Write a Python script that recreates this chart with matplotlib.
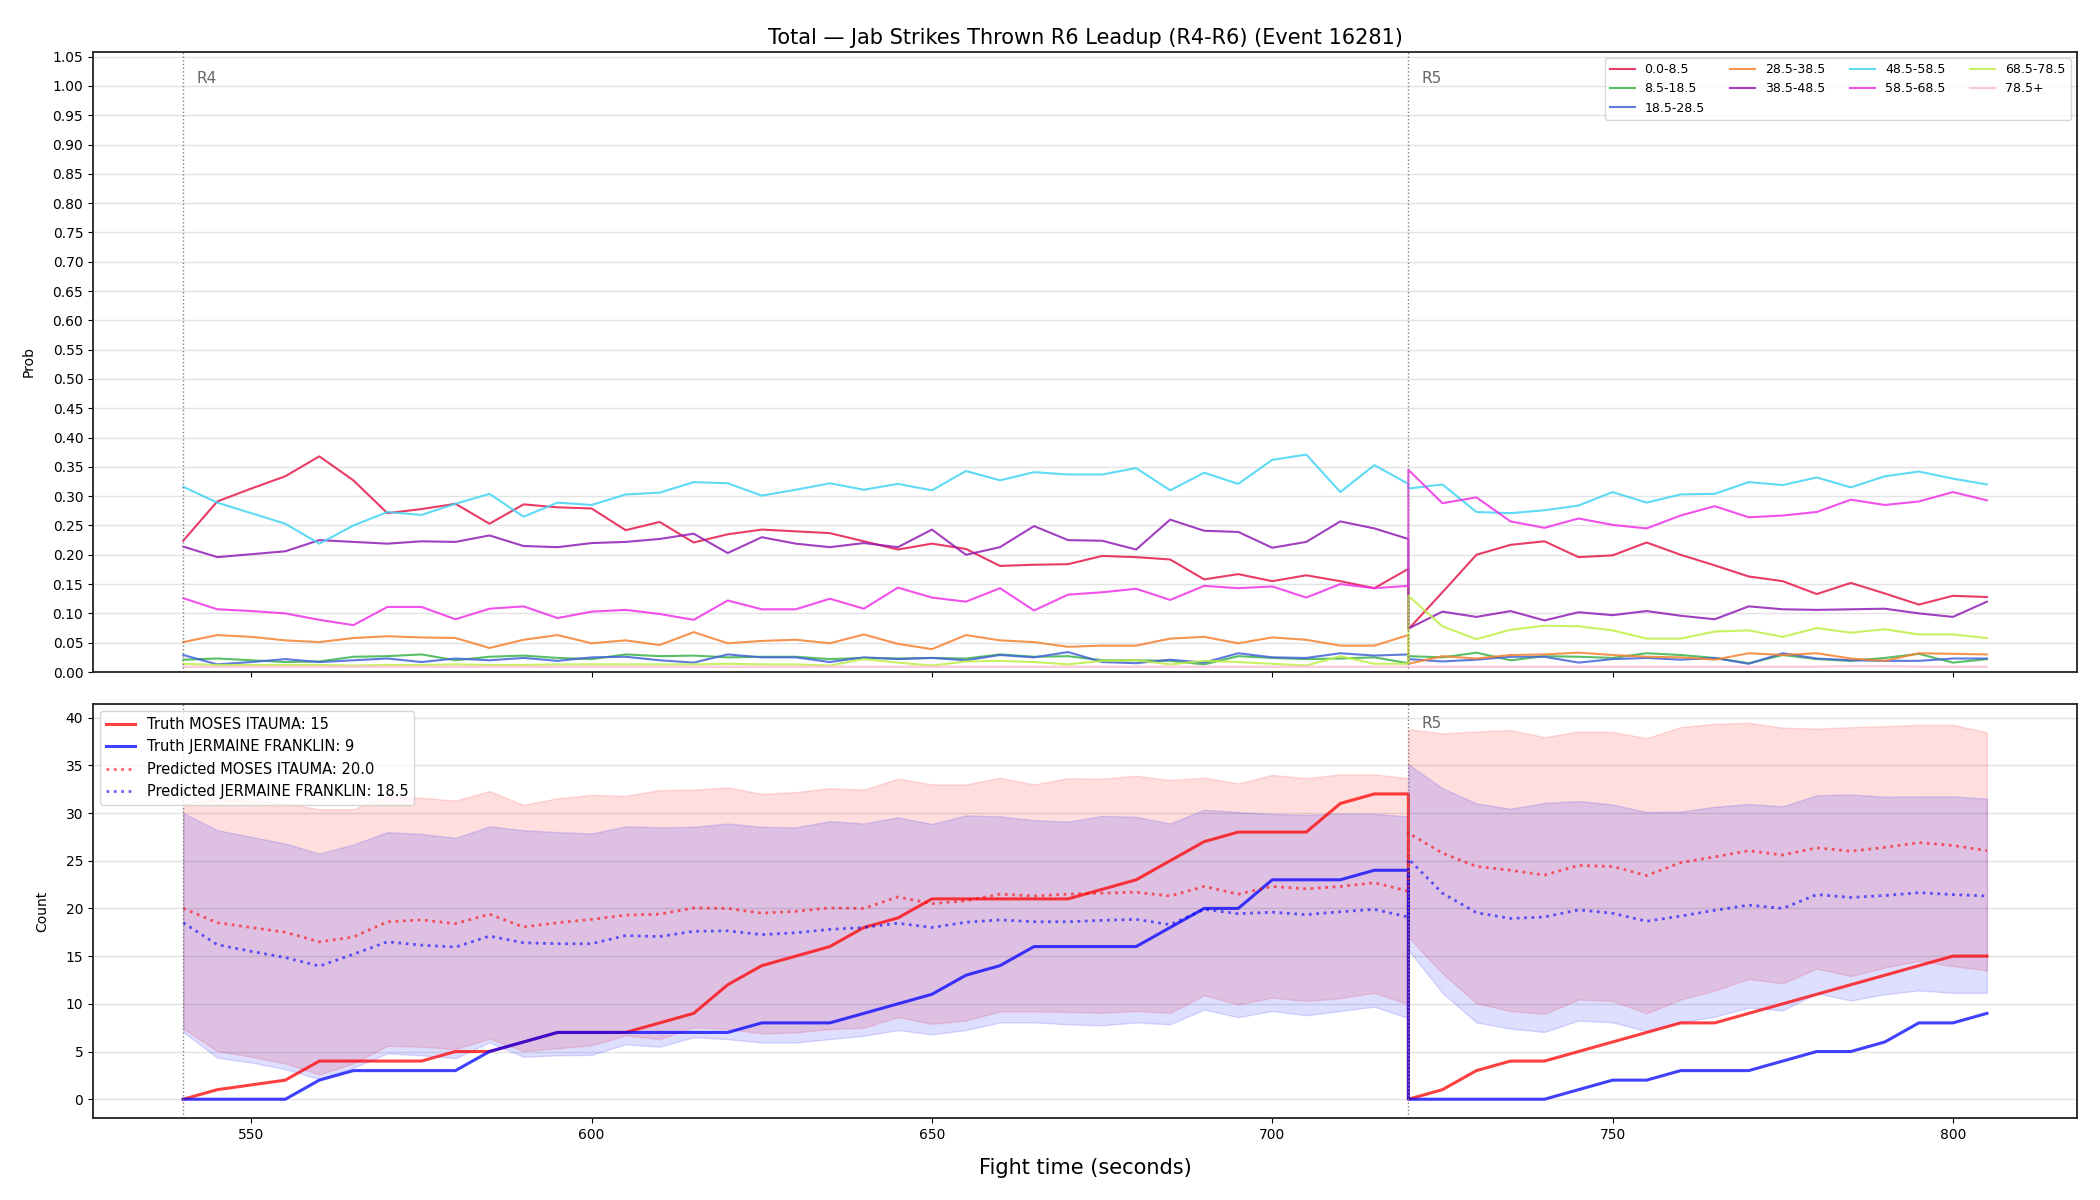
import matplotlib
matplotlib.use("Agg")
import matplotlib.pyplot as plt
import matplotlib.transforms as mtransforms
import numpy as np

# time grid: round 4 runs 540..720, round 5 restarts at 720 and runs to 805
t_r4 = list(range(540, 725, 5))
t_r5 = list(range(720, 810, 5))

bins = ['0.0-8.5', '8.5-18.5', '18.5-28.5', '28.5-38.5', '38.5-48.5',
        '48.5-58.5', '58.5-68.5', '68.5-78.5', '78.5+']
bin_colors = ['#e6194b', '#3cb44b', '#4363d8', '#f58231', '#911eb4',
              '#42d4f4', '#f032e6', '#bfef45', '#fabed4']

p_00_r4 = [0.224, 0.291, 0.313, 0.334, 0.368, 0.327, 0.271, 0.278, 0.287, 0.253, 0.286, 0.281, 0.279, 0.242, 0.256, 0.221, 0.235, 0.243,
           0.240, 0.237, 0.223, 0.209, 0.219, 0.210, 0.181, 0.183, 0.184, 0.198, 0.196, 0.192, 0.158, 0.167, 0.155, 0.165, 0.155, 0.143, 0.176]
p_00_r5 = [0.073, 0.136, 0.200, 0.217, 0.223, 0.196, 0.199, 0.221, 0.200, 0.182, 0.163, 0.155, 0.133, 0.152, 0.134, 0.115, 0.130, 0.128]

p_08_r4 = [0.021, 0.023, 0.020, 0.017, 0.018, 0.026, 0.027, 0.030, 0.020, 0.026, 0.028, 0.024, 0.022, 0.030, 0.027, 0.028, 0.025, 0.026,
           0.026, 0.022, 0.024, 0.023, 0.024, 0.023, 0.030, 0.026, 0.027, 0.020, 0.020, 0.019, 0.013, 0.027, 0.024, 0.022, 0.023, 0.025, 0.015]
p_08_r5 = [0.027, 0.025, 0.033, 0.020, 0.027, 0.026, 0.024, 0.032, 0.029, 0.024, 0.015, 0.029, 0.022, 0.019, 0.024, 0.031, 0.016, 0.022]

p_18_r4 = [0.029, 0.013, 0.017, 0.022, 0.017, 0.020, 0.023, 0.017, 0.023, 0.020, 0.024, 0.019, 0.025, 0.026, 0.020, 0.016, 0.030, 0.025,
           0.025, 0.017, 0.025, 0.022, 0.024, 0.020, 0.029, 0.025, 0.034, 0.017, 0.015, 0.021, 0.016, 0.032, 0.025, 0.024, 0.032, 0.028, 0.030]
p_18_r5 = [0.022, 0.018, 0.021, 0.026, 0.026, 0.016, 0.022, 0.024, 0.021, 0.024, 0.014, 0.032, 0.023, 0.020, 0.019, 0.019, 0.023, 0.023]

p_28_r4 = [0.051, 0.063, 0.060, 0.054, 0.051, 0.058, 0.061, 0.059, 0.058, 0.041, 0.055, 0.063, 0.049, 0.054, 0.046, 0.068, 0.049, 0.053,
           0.055, 0.049, 0.064, 0.048, 0.039, 0.063, 0.054, 0.051, 0.043, 0.045, 0.045, 0.057, 0.060, 0.049, 0.059, 0.055, 0.045, 0.045, 0.063]
p_28_r5 = [0.014, 0.027, 0.023, 0.029, 0.030, 0.033, 0.029, 0.026, 0.025, 0.021, 0.032, 0.029, 0.032, 0.023, 0.019, 0.032, 0.031, 0.030]

p_38_r4 = [0.214, 0.196, 0.201, 0.206, 0.225, 0.222, 0.219, 0.223, 0.222, 0.233, 0.215, 0.213, 0.220, 0.222, 0.227, 0.236, 0.203, 0.230,
           0.219, 0.213, 0.220, 0.213, 0.243, 0.200, 0.213, 0.249, 0.225, 0.224, 0.209, 0.260, 0.241, 0.239, 0.212, 0.222, 0.257, 0.245, 0.227]
p_38_r5 = [0.074, 0.103, 0.094, 0.104, 0.088, 0.102, 0.097, 0.104, 0.096, 0.090, 0.112, 0.107, 0.106, 0.107, 0.108, 0.100, 0.094, 0.120]

p_48_r4 = [0.316, 0.289, 0.271, 0.253, 0.219, 0.250, 0.273, 0.268, 0.287, 0.304, 0.265, 0.289, 0.285, 0.303, 0.306, 0.324, 0.322, 0.301,
           0.311, 0.322, 0.311, 0.321, 0.310, 0.343, 0.327, 0.341, 0.337, 0.337, 0.348, 0.310, 0.340, 0.321, 0.362, 0.371, 0.307, 0.353, 0.321]
p_48_r5 = [0.313, 0.320, 0.273, 0.271, 0.276, 0.284, 0.307, 0.289, 0.303, 0.304, 0.324, 0.319, 0.332, 0.315, 0.334, 0.342, 0.330, 0.320]

p_58_r4 = [0.126, 0.107, 0.104, 0.100, 0.089, 0.080, 0.111, 0.111, 0.090, 0.108, 0.112, 0.092, 0.103, 0.106, 0.099, 0.089, 0.122, 0.107,
           0.107, 0.125, 0.108, 0.144, 0.127, 0.120, 0.143, 0.105, 0.132, 0.136, 0.142, 0.123, 0.147, 0.143, 0.146, 0.127, 0.150, 0.143, 0.147]
p_58_r5 = [0.345, 0.288, 0.298, 0.257, 0.246, 0.262, 0.251, 0.245, 0.267, 0.283, 0.264, 0.267, 0.273, 0.294, 0.285, 0.291, 0.307, 0.293]

p_68_r4 = [0.014, 0.012, 0.012, 0.012, 0.012, 0.011, 0.012, 0.012, 0.013, 0.012, 0.012, 0.013, 0.013, 0.013, 0.013, 0.013, 0.014, 0.013,
           0.013, 0.011, 0.022, 0.016, 0.011, 0.018, 0.019, 0.017, 0.013, 0.019, 0.020, 0.013, 0.019, 0.017, 0.014, 0.011, 0.027, 0.014, 0.014]
p_68_r5 = [0.130, 0.078, 0.056, 0.072, 0.079, 0.078, 0.071, 0.057, 0.057, 0.069, 0.071, 0.060, 0.075, 0.067, 0.073, 0.064, 0.064, 0.058]

p_78_r4 = [0.009, 0.009, 0.009, 0.009, 0.009, 0.009, 0.009, 0.009, 0.009, 0.009, 0.009, 0.009, 0.009, 0.009, 0.009, 0.009, 0.009, 0.009,
           0.009, 0.009, 0.009, 0.009, 0.009, 0.009, 0.009, 0.009, 0.009, 0.009, 0.009, 0.009, 0.009, 0.009, 0.009, 0.009, 0.009, 0.009, 0.009]
p_78_r5 = [0.009, 0.009, 0.009, 0.009, 0.009, 0.009, 0.009, 0.009, 0.009, 0.009, 0.009, 0.009, 0.009, 0.010, 0.010, 0.009, 0.009, 0.009]

probs = [(p_00_r4, p_00_r5), (p_08_r4, p_08_r5), (p_18_r4, p_18_r5),
         (p_28_r4, p_28_r5), (p_38_r4, p_38_r5), (p_48_r4, p_48_r5),
         (p_58_r4, p_58_r5), (p_68_r4, p_68_r5), (p_78_r4, p_78_r5)]

# cumulative counts
truth_moses_r4 = [0, 1, 1.5, 2, 4, 4, 4, 4, 5, 5, 6, 7, 7, 7, 8, 9, 12, 14,
                  15, 16, 18, 19, 21, 21, 21, 21, 21, 22, 23, 25, 27, 28, 28, 28, 31, 32, 32]
truth_moses_r5 = [0, 1, 3, 4, 4, 5, 6, 7, 8, 8, 9, 10, 11, 12, 13, 14, 15, 15]
truth_franklin_r4 = [0, 0, 0, 0, 2, 3, 3, 3, 3, 5, 6, 7, 7, 7, 7, 7, 7, 8,
                     8, 8, 9, 10, 11, 13, 14, 16, 16, 16, 16, 18, 20, 20, 23, 23, 23, 24, 24]
truth_franklin_r5 = [0, 0, 0, 0, 0, 1, 2, 2, 3, 3, 3, 4, 5, 5, 6, 8, 8, 9]

pred_moses_r4 = [20.0, 18.5, 18.0, 17.5, 16.5, 17.0, 18.6, 18.8, 18.4, 19.4, 18.05, 18.5, 18.85, 19.3, 19.4, 20.05, 20.0, 19.5,
                 19.7, 20.05, 20.0, 21.2, 20.5, 20.8, 21.5, 21.3, 21.5, 21.6, 21.7, 21.3, 22.3, 21.5, 22.3, 22.05, 22.3, 22.7, 21.8]
pred_moses_r5 = [27.9, 25.8, 24.4, 24.0, 23.5, 24.5, 24.4, 23.45, 24.8, 25.4, 26.05, 25.6, 26.35, 26.0, 26.4, 26.9, 26.6, 26.05]
pred_franklin_r4 = [18.5, 16.2, 15.5, 14.85, 13.95, 15.2, 16.5, 16.15, 15.95, 17.1, 16.4, 16.3, 16.3, 17.15, 17.05, 17.6, 17.65, 17.25,
                    17.45, 17.8, 18.0, 18.45, 18.0, 18.55, 18.8, 18.6, 18.6, 18.75, 18.85, 18.3, 19.9, 19.45, 19.6, 19.35, 19.65, 19.9, 19.1]
pred_franklin_r5 = [25.2, 21.6, 19.55, 18.95, 19.1, 19.85, 19.5, 18.65, 19.2, 19.8, 20.35, 20.0, 21.45, 21.15, 21.35, 21.65, 21.45, 21.3]

moses_hi_r4 = [31.0, 31.5, 31.3, 31.0, 30.4, 30.4, 31.75, 31.6, 31.3, 32.3, 30.85, 31.55, 31.9, 31.8, 32.4, 32.45, 32.7, 32.0,
               32.2, 32.6, 32.45, 33.6, 33.0, 33.0, 33.7, 33.0, 33.65, 33.6, 33.9, 33.45, 33.7, 33.1, 34.0, 33.65, 34.05, 34.05, 33.65]
moses_hi_r5 = [38.8, 38.35, 38.55, 38.7, 37.95, 38.55, 38.5, 37.85, 39.0, 39.35, 39.45, 38.95, 38.85, 39.0, 39.1, 39.25, 39.25, 38.45]
moses_lo_r4 = [7.4, 5.05, 4.45, 3.75, 2.6, 3.75, 5.6, 5.5, 5.25, 6.35, 5.05, 5.35, 5.65, 6.7, 6.3, 7.55, 7.35, 6.9,
               7.0, 7.35, 7.5, 8.6, 7.9, 8.25, 9.2, 9.2, 9.15, 9.05, 9.25, 9.05, 10.9, 9.95, 10.65, 10.3, 10.6, 11.15, 9.95]
moses_lo_r5 = [17.0, 13.2, 10.05, 9.25, 8.95, 10.45, 10.3, 9.0, 10.45, 11.4, 12.6, 12.15, 13.7, 12.9, 13.8, 14.5, 13.95, 13.5]
franklin_hi_r4 = [30.0, 28.2, 27.5, 26.8, 25.75, 26.7, 28.0, 27.8, 27.4, 28.6, 28.2, 28.0, 27.85, 28.6, 28.5, 28.55, 28.9, 28.55,
                  28.5, 29.15, 28.9, 29.55, 28.85, 29.75, 29.65, 29.25, 29.1, 29.7, 29.6, 28.9, 30.35, 30.1, 29.9, 29.8, 29.95, 29.9, 29.65]
franklin_hi_r5 = [35.1, 32.6, 31.0, 30.45, 31.05, 31.25, 30.9, 30.1, 30.15, 30.65, 30.95, 30.7, 31.85, 31.95, 31.7, 31.75, 31.75, 31.5]
franklin_lo_r4 = [7.05, 4.35, 3.85, 3.15, 2.1, 3.3, 4.8, 4.6, 4.3, 5.95, 4.45, 4.6, 4.65, 5.75, 5.5, 6.5, 6.3, 5.95,
                  5.95, 6.3, 6.65, 7.25, 6.8, 7.25, 8.05, 8.05, 7.85, 7.75, 8.05, 7.85, 9.4, 8.6, 9.25, 8.8, 9.25, 9.7, 8.5]
franklin_lo_r5 = [15.65, 11.15, 8.05, 7.4, 7.05, 8.25, 8.05, 7.15, 8.05, 8.65, 9.6, 9.3, 11.1, 10.35, 11.0, 11.4, 11.15, 11.15]

rounds = [(540, 'R4'), (720, 'R5')]

t_all = t_r4 + t_r5


def join(a, b):
    return list(a) + list(b)


fig = plt.figure(figsize=(21, 12), dpi=100)
ax1 = fig.add_axes([0.0443, 0.44, 0.9448, 0.5167])
ax2 = fig.add_axes([0.0443, 0.0683, 0.9448, 0.345], sharex=ax1)

# --- top: bin probabilities
for name, col, (r4, r5) in zip(bins, bin_colors, probs):
    ax1.plot(t_all, join(r4, r5), color=col, lw=1.5, alpha=0.85, label=name)

ax1.set_ylim(0, 1.058)
ax1.set_yticks(np.arange(0, 1.051, 0.05))
ax1.yaxis.set_major_formatter(plt.FormatStrFormatter('%.2f'))
ax1.set_ylabel('Prob', labelpad=12)
ax1.set_title('Total \u2014 Jab Strikes Thrown R6 Leadup (R4-R6) (Event 16281)', fontsize=15)
ax1.grid(axis='y', color='#e3e3e3', lw=1)
ax1.set_axisbelow(True)
ax1.tick_params(labelbottom=False)
ax1.legend(loc='upper right', ncol=4, fontsize=9)

# --- bottom: cumulative counts
ax2.fill_between(t_all, join(moses_lo_r4, moses_lo_r5), join(moses_hi_r4, moses_hi_r5),
                 color='red', alpha=0.13, lw=1)
ax2.fill_between(t_all, join(franklin_lo_r4, franklin_lo_r5), join(franklin_hi_r4, franklin_hi_r5),
                 color='blue', alpha=0.13, lw=1)
ax2.plot(t_all, join(truth_moses_r4, truth_moses_r5), color='red', lw=2.2, alpha=0.75,
         label='Truth MOSES ITAUMA: 15')
ax2.plot(t_all, join(truth_franklin_r4, truth_franklin_r5), color='blue', lw=2.2, alpha=0.75,
         label='Truth JERMAINE FRANKLIN: 9')
ax2.plot(t_all, join(pred_moses_r4, pred_moses_r5), color='red', lw=2, ls=':', alpha=0.6,
         label='Predicted MOSES ITAUMA: 20.0')
ax2.plot(t_all, join(pred_franklin_r4, pred_franklin_r5), color='blue', lw=2, ls=':', alpha=0.6,
         label='Predicted JERMAINE FRANKLIN: 18.5')
ax2.set_ylabel('Count', labelpad=12)
ax2.set_xlabel('Fight time (seconds)', fontsize=15, labelpad=12)
ax2.grid(axis='y', color='#e3e3e3', lw=1)
ax2.set_axisbelow(True)
ax2.legend(loc='upper left', fontsize=10.5)

for ax in (ax1, ax2):
    trans = mtransforms.blended_transform_factory(ax.transData, ax.transAxes)
    for t0, lab in rounds:
        ax.axvline(t0, color='gray', ls=':', lw=1)
        # the R4 tag of the lower panel sits under its legend, so it is left out
        if ax is ax2 and lab == 'R4':
            continue
        ax.text(t0 + 2, 0.97, lab, transform=trans, color='#666666',
                fontsize=11, va='top', ha='left')
    for s in ax.spines.values():
        s.set_linewidth(1.3)
        s.set_color('#222222')

fig.savefig('out.png', dpi=100)
plt.close(fig)
